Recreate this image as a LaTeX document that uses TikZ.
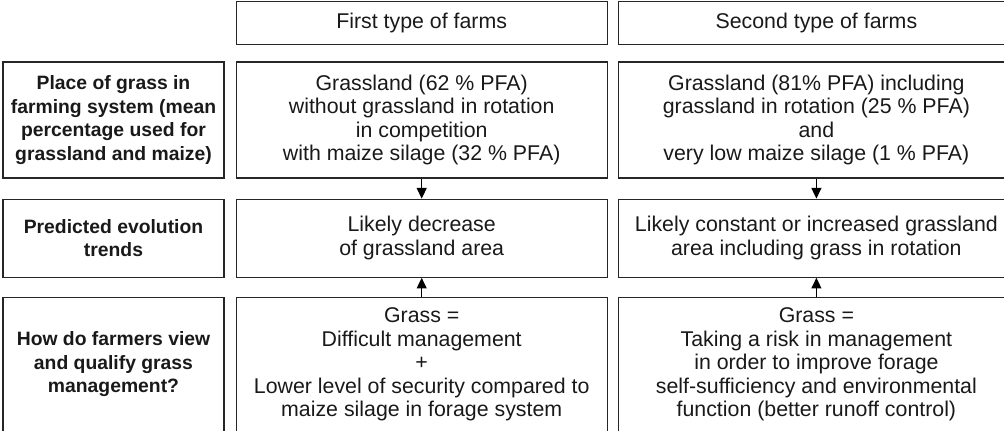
\documentclass[tikz,border=0pt]{standalone}
\usepackage{fontspec}
\setmainfont{Liberation Sans}
\usetikzlibrary{arrows.meta, positioning}
\tikzset{
  cell/.style={draw=black!85, line width=0.9pt, align=center, inner sep=2pt,
    text=black!90, font=\fontsize{16}{17.6}\selectfont},
  headcell/.style={cell, minimum height=32.25pt},
  rowlabel/.style={cell, minimum width=165.75pt,
    font=\bfseries\fontsize{14.5}{17.6}\selectfont},
  firstcol/.style={cell, minimum width=278.25pt},
  secondcol/.style={cell, minimum width=297pt},
  flow/.style={-{Triangle[length=8pt, width=7.5pt]}, line width=0.8pt, draw=black},
}
\begin{document}
\begin{tikzpicture}[x=0.75pt, y=-0.75pt]
  \useasboundingbox (0,0) rectangle (1004,431);

  % ==================================================================
  % Row 1: place of grass in the farming system
  % ==================================================================
  \node[rowlabel, minimum height=87pt] (placelab) at (113.5,120)
    {Place of grass in\\ farming system (mean\\ percentage used for\\ grassland and maize)};

  \node[firstcol, minimum height=87pt, right=8.25pt of placelab] (place1)
    {Grassland (62 \% PFA)\\ without grassland in rotation\\ in competition\\
     with maize silage (32 \% PFA)};

  \node[secondcol, minimum height=87pt, right=7.5pt of place1] (place2)
    {Grassland (81\% PFA) including\\ grassland in rotation (25 \% PFA)\\ and\\
     very low maize silage (1 \% PFA)};

  % ==================================================================
  % Column headers
  % ==================================================================
  \node[headcell, minimum width=278.25pt, above=12pt of place1] (head1)
    {First type of farms};
  \node[headcell, minimum width=297pt, above=12pt of place2] (head2)
    {Second type of farms};

  % ==================================================================
  % Row 2: predicted evolution trends
  % ==================================================================
  \node[rowlabel, minimum height=58.5pt, below=15pt of placelab] (trendlab)
    {Predicted evolution\\ trends};

  \node[firstcol, minimum height=58.5pt, below=15pt of place1] (trend1)
    {Likely decrease\\ of grassland area};

  \node[secondcol, minimum height=58.5pt, below=15pt of place2] (trend2)
    {Likely constant or increased grassland\\ area including grass in rotation};

  % ==================================================================
  % Row 3: how farmers view grass management
  % ==================================================================
  \node[rowlabel, minimum height=100.5pt, below=14.25pt of trendlab] (viewlab)
    {How do farmers view\\ and qualify grass\\ management?};

  \node[firstcol, minimum height=100.5pt, below=14.25pt of trend1] (view1)
    {Grass =\\ Difficult management\\ +\\ Lower level of security compared to\\
     maize silage in forage system};

  \node[secondcol, minimum height=100.5pt, below=14.25pt of trend2] (view2)
    {Grass =\\ Taking a risk in management\\ in order to improve forage\\
     self-sufficiency and environmental\\ function (better runoff control)};

  % ----------------------------------------------------------------
  % Arrows
  % ----------------------------------------------------------------
  \draw[flow] (place1) -- (trend1);
  \draw[flow] (place2) -- (trend2);
  \draw[flow] (view1) -- (trend1);
  \draw[flow] (view2) -- (trend2);

\end{tikzpicture}
\end{document}
